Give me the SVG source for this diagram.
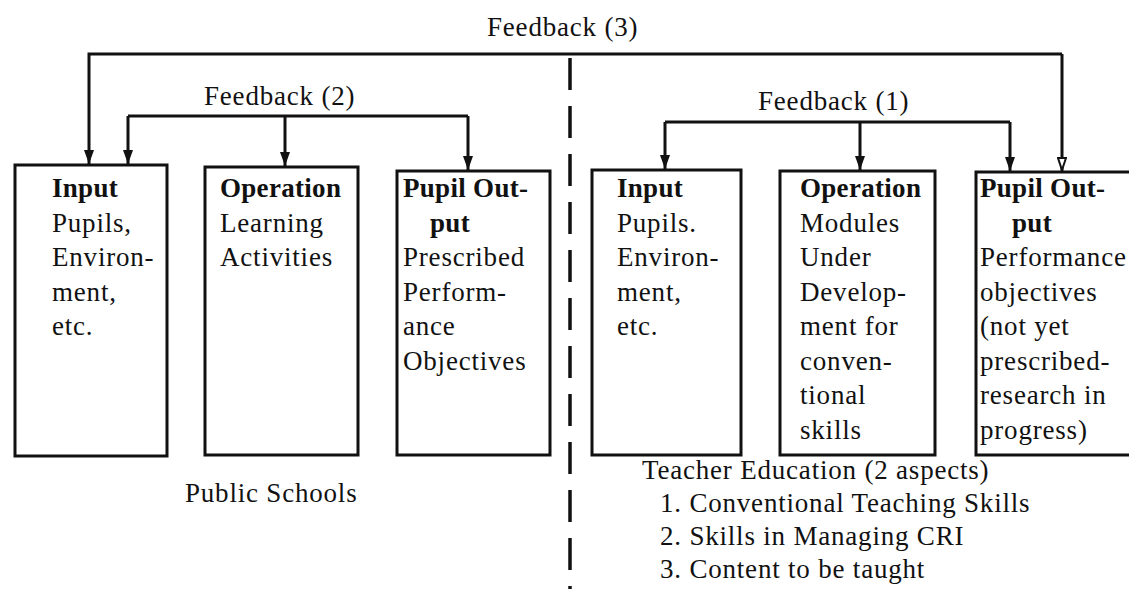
<svg xmlns="http://www.w3.org/2000/svg" width="1129" height="589" viewBox="0 0 1129 589">
  <style>
    text { font-family: "Liberation Serif", "Times New Roman", serif; font-size: 27px; fill: #111; letter-spacing: 0.8px; }
    .b { font-weight: bold; letter-spacing: 0.3px; }
    .box { fill: none; stroke: #111; stroke-width: 3; }
    .wire { fill: none; stroke: #111; stroke-width: 3; }
    .divider { fill: none; stroke: #111; stroke-width: 3.5; stroke-dasharray: 32 16; }
  </style>
  <defs>
    <!-- arrowheads drawn along +x so orient="auto" turns them with the line -->
    <marker id="arrow" markerUnits="userSpaceOnUse" markerWidth="14" markerHeight="10" refX="14" refY="5" orient="auto" viewBox="0 0 14 10">
      <path d="M0,0 L14,5 L0,10 Z" fill="#111"/>
    </marker>
    <marker id="arrow-open" markerUnits="userSpaceOnUse" markerWidth="14" markerHeight="10" refX="14" refY="5" orient="auto" viewBox="0 0 14 10">
      <path d="M1,1 L13,5 L1,9 Z" fill="#fff" stroke="#111" stroke-width="2"/>
    </marker>
  </defs>

  <rect width="1129" height="589" fill="#fff"/>

  <!-- feedback loops -->
  <g id="connectors">
    <!-- Feedback (3): spans both halves -->
    <path class="wire" d="M1062,54 H89 V164" marker-end="url(#arrow)"/>
    <path class="wire" d="M1062,54 V171" marker-end="url(#arrow-open)"/>
    <!-- Feedback (2): public schools -->
    <path class="wire" d="M128,116 H468"/>
    <path class="wire" d="M128,116 V164" marker-end="url(#arrow)"/>
    <path class="wire" d="M285,116 V166" marker-end="url(#arrow)"/>
    <path class="wire" d="M468,116 V170" marker-end="url(#arrow)"/>
    <!-- Feedback (1): teacher education -->
    <path class="wire" d="M665,122 H1010"/>
    <path class="wire" d="M665,122 V169" marker-end="url(#arrow)"/>
    <path class="wire" d="M860,122 V170" marker-end="url(#arrow)"/>
    <path class="wire" d="M1010,122 V171" marker-end="url(#arrow)"/>
    <!-- split between the two systems -->
    <path class="divider" d="M570,58 V589"/>
  </g>

  <g id="labels">
    <text x="487" y="36">Feedback (3)</text>
    <text x="204" y="105">Feedback (2)</text>
    <text x="758" y="110">Feedback (1)</text>
    <text x="185" y="502">Public Schools</text>
    <text x="642" y="479">Teacher Education (2 aspects)</text>
    <text x="660" y="512">1. Conventional Teaching Skills</text>
    <text x="660" y="545">2. Skills in Managing CRI</text>
    <text x="660" y="578">3. Content to be taught</text>
  </g>

  <!-- public schools -->
  <g id="ps-input">
    <rect class="box" x="15" y="165" width="152" height="291"/>
    <text class="b" x="52" y="197">Input</text>
    <text x="52" y="231.5">Pupils,</text>
    <text x="52" y="266">Environ-</text>
    <text x="52" y="300.5">ment,</text>
    <text x="52" y="335">etc.</text>
  </g>
  <g id="ps-operation">
    <rect class="box" x="205" y="167" width="153" height="288"/>
    <text class="b" x="220" y="197">Operation</text>
    <text x="220" y="231.5">Learning</text>
    <text x="220" y="266">Activities</text>
  </g>
  <g id="ps-output">
    <rect class="box" x="397" y="171" width="153" height="284"/>
    <text class="b" x="403" y="197">Pupil Out-</text>
    <text class="b" x="430" y="231.5">put</text>
    <text x="403" y="266">Prescribed</text>
    <text x="403" y="300.5">Perform-</text>
    <text x="403" y="335">ance</text>
    <text x="403" y="369.5">Objectives</text>
  </g>

  <!-- teacher education -->
  <g id="te-input">
    <rect class="box" x="592" y="170" width="149" height="285"/>
    <text class="b" x="617" y="197">Input</text>
    <text x="617" y="231.5">Pupils.</text>
    <text x="617" y="266">Environ-</text>
    <text x="617" y="300.5">ment,</text>
    <text x="617" y="335">etc.</text>
  </g>
  <g id="te-operation">
    <rect class="box" x="780" y="171" width="155" height="284"/>
    <text class="b" x="800" y="197">Operation</text>
    <text x="800" y="231.5">Modules</text>
    <text x="800" y="266">Under</text>
    <text x="800" y="300.5">Develop-</text>
    <text x="800" y="335">ment for</text>
    <text x="800" y="369.5">conven-</text>
    <text x="800" y="404">tional</text>
    <text x="800" y="438.5">skills</text>
  </g>
  <g id="te-output">
    <path class="box" d="M1131,172 H976 V455 H1131"/>
    <text class="b" x="980" y="197">Pupil Out-</text>
    <text class="b" x="1012" y="231.5">put</text>
    <text x="980" y="266">Performance</text>
    <text x="980" y="300.5">objectives</text>
    <text x="980" y="335">(not yet</text>
    <text x="980" y="369.5">prescribed-</text>
    <text x="980" y="404">research in</text>
    <text x="980" y="438.5">progress)</text>
  </g>
</svg>
